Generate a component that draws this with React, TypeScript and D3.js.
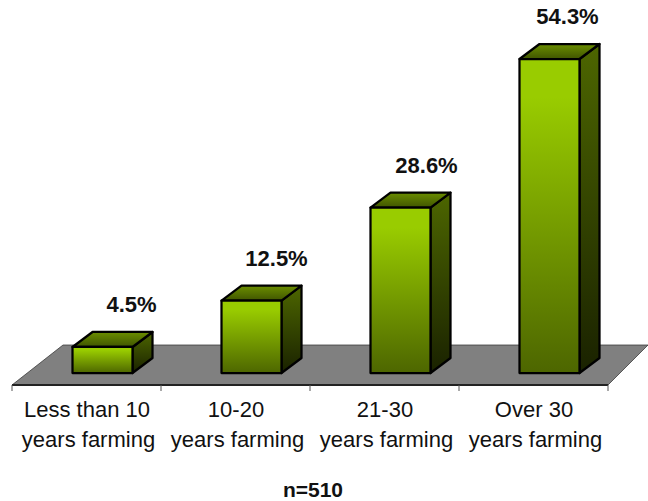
import * as d3 from "d3";

const line1 = ["Less than 10", "10-20", "21-30", "Over 30"];
const line2 = ["years farming", "years farming", "years farming", "years farming"];
const values = [4.5, 12.5, 28.6, 54.3];
const valueLabels = ["4.5%", "12.5%", "28.6%", "54.3%"];
const note = "n=510";

const width = 648;
const height = 501;
const floorFront = 385;
const floorBack = 345;
const baseY = 373;
const barW = 60;
const depthX = 20;
const depthY = 15;
const font = "'Liberation Sans', Arial, sans-serif";
// the value labels were placed by hand in the original, not centred on the bars
const labelNudge = [59, 55, 56, 48];

export default function App() {
  const x = d3.scaleBand<string>().domain(line1).range([12, 608]);
  const y = d3.scaleLinear().domain([0, 54.3]).range([baseY, 59]);
  const floor = d3.line()([[12, floorFront], [608, floorFront], [648, floorBack], [63, floorBack]]) + "Z";
  const ticks = [12, ...line1.map((c) => x(c)! + x.bandwidth())];

  return (
    <svg width={width} height={height} style={{ position: "absolute", left: 0, top: 0 }} fontFamily={font}>
      <defs>
        <linearGradient id="front" x1="0" y1="0" x2="0" y2="1">
          <stop offset="0" stopColor="#99cc00" />
          <stop offset="0.12" stopColor="#99cc00" />
          <stop offset="1" stopColor="#4d6600" />
        </linearGradient>
        <linearGradient id="side" x1="0" y1="0" x2="0" y2="1">
          <stop offset="0" stopColor="#4d6600" />
          <stop offset="1" stopColor="#1a2200" />
        </linearGradient>
        <linearGradient id="top" x1="0" y1="0" x2="0" y2="1">
          <stop offset="0" stopColor="#6b8e00" />
          <stop offset="1" stopColor="#405500" />
        </linearGradient>
      </defs>

      <path d={floor} fill="#808080" stroke="#333" strokeWidth={0.75} />
      <line x1={12} x2={608} y1={floorFront} y2={floorFront} stroke="#222" strokeWidth={2} />
      {ticks.map((t) => (
        <line key={t} x1={t} x2={t} y1={floorFront} y2={floorFront + 6} stroke="#555" strokeWidth={1} />
      ))}

      {line1.map((c, i) => {
        const x0 = x(c)! + x.bandwidth() / 2 + 16 - barW / 2;
        const x1 = x0 + barW;
        const yTop = y(values[i]);
        const common = { stroke: "#000", strokeWidth: 2.25, strokeLinejoin: "round" as const };
        return (
          <g key={c}>
            <path
              d={`M${x1},${yTop}L${x1 + depthX},${yTop - depthY}V${baseY - depthY}L${x1},${baseY}Z`}
              fill="url(#side)"
              {...common}
            />
            <path
              d={`M${x0},${yTop}L${x0 + depthX},${yTop - depthY}H${x1 + depthX}L${x1},${yTop}Z`}
              fill="url(#top)"
              {...common}
            />
            <rect x={x0} y={yTop} width={barW} height={baseY - yTop} fill="url(#front)" {...common} />
            <text x={x0 + labelNudge[i]} y={yTop - 35} textAnchor="middle" fontSize={22} fontWeight="bold" fill="#111">
              {valueLabels[i]}
            </text>
          </g>
        );
      })}

      {line1.map((c, i) => {
        const cx = x(c)! + x.bandwidth() / 2;
        return (
          <text key={c} textAnchor="middle" fontSize={22} fill="#111">
            <tspan x={cx + 0.5} y={417}>{c}</tspan>
            <tspan x={cx + 2} y={447}>{line2[i]}</tspan>
          </text>
        );
      })}

      <text x={313} y={497} textAnchor="middle" fontSize={21} fontWeight="bold" fill="#111">{note}</text>
    </svg>
  );
}
